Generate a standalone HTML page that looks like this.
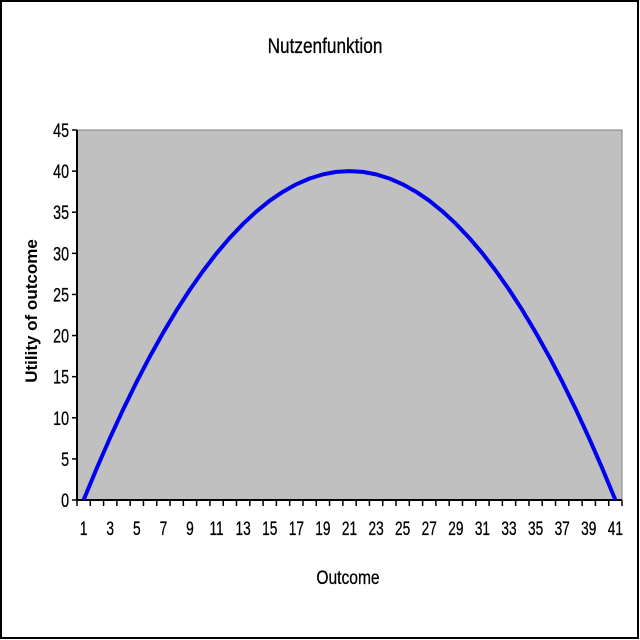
<!DOCTYPE html>
<html><head><meta charset="utf-8"><style>
html,body{margin:0;padding:0;background:#fff}
svg{display:block}
text{font-family:"Liberation Sans",Arial,sans-serif;fill:#000}
</style></head><body>
<svg width="640" height="640" viewBox="0 0 640 640">
<rect x="1" y="1" width="637" height="637" fill="#fff" stroke="#000" stroke-width="2"/>
<text x="325" y="53" font-size="21" text-anchor="middle" stroke="#000" stroke-width="0.3" transform="translate(325 0) scale(0.82 1) translate(-325 0)">Nutzenfunktion</text>
<rect x="77" y="130" width="545" height="370" fill="#c0c0c0" stroke="#808080" stroke-width="1"/>
<g id="axes"></g>
<polyline id="curve" fill="none" stroke="#0000ee" stroke-width="4" stroke-linejoin="round"/>
<text x="348" y="584" font-size="19" text-anchor="middle" stroke="#000" stroke-width="0.3" transform="translate(348 0) scale(0.82 1) translate(-348 0)">Outcome</text>
<text x="0" y="0" font-size="17" font-weight="bold" text-anchor="middle" transform="translate(37 311) rotate(-90)">Utility of outcome</text>
</svg>
<script>
const categories = Array.from({length:41},(_,i)=>i+1);
const values = [0,3.9,7.6,11.1,14.4,17.5,20.4,23.1,25.6,27.9,30,31.9,33.6,35.1,36.4,37.5,38.4,39.1,39.6,39.9,40,39.9,39.6,39.1,38.4,37.5,36.4,35.1,33.6,31.9,30,27.9,25.6,23.1,20.4,17.5,14.4,11.1,7.6,3.9,0];
const yTicks = [0,5,10,15,20,25,30,35,40,45];
const NS='http://www.w3.org/2000/svg';
const L=77,R=622,T=130,B=500,YMAX=45;
const bw=(R-L)/categories.length;
const xs=i=>L+bw*(i+0.5);
const ys=v=>B-(v/YMAX)*(B-T);
const g=document.getElementById('axes');
function mk(tag,a){const e=document.createElementNS(NS,tag);for(const k in a)e.setAttribute(k,a[k]);g.appendChild(e);return e;}
const ya=mk('line',{x1:L,y1:T,x2:L,y2:B,stroke:'#000','stroke-width':2});


const xa=mk('line',{x1:L,y1:B,x2:R,y2:B,stroke:'#000','stroke-width':2});


yTicks.forEach(v=>{
  const y=ys(v);
  const t=mk('line',{x1:L-5,y1:y,x2:L,y2:y,stroke:'#000','stroke-width':1.5});
  
  
  const tx=mk('text',{x:69,y:y+7,'font-size':19,'text-anchor':'end',stroke:'#000','stroke-width':0.3,transform:`translate(69 0) scale(0.75 1) translate(-69 0)`});
  tx.textContent=v;
  
  
});
for(let i=0;i<=categories.length;i++){
  const x=L+bw*i;
  const t=mk('line',{x1:x,y1:B,x2:x,y2:B+6,stroke:'#000','stroke-width':1.5});
  
  
}
categories.forEach((c,i)=>{
  if(i%2) return;
  const x=xs(i);
  const tx=mk('text',{x:x,y:535,'font-size':19,'text-anchor':'middle',stroke:'#000','stroke-width':0.3,transform:`translate(${x} 0) scale(0.72 1) translate(${-x} 0)`});
  tx.textContent=c;
  
  
});
document.getElementById('curve').setAttribute('points',values.map((v,i)=>xs(i).toFixed(1)+','+ys(v).toFixed(1)).join(' '));
</script>
</body></html>
